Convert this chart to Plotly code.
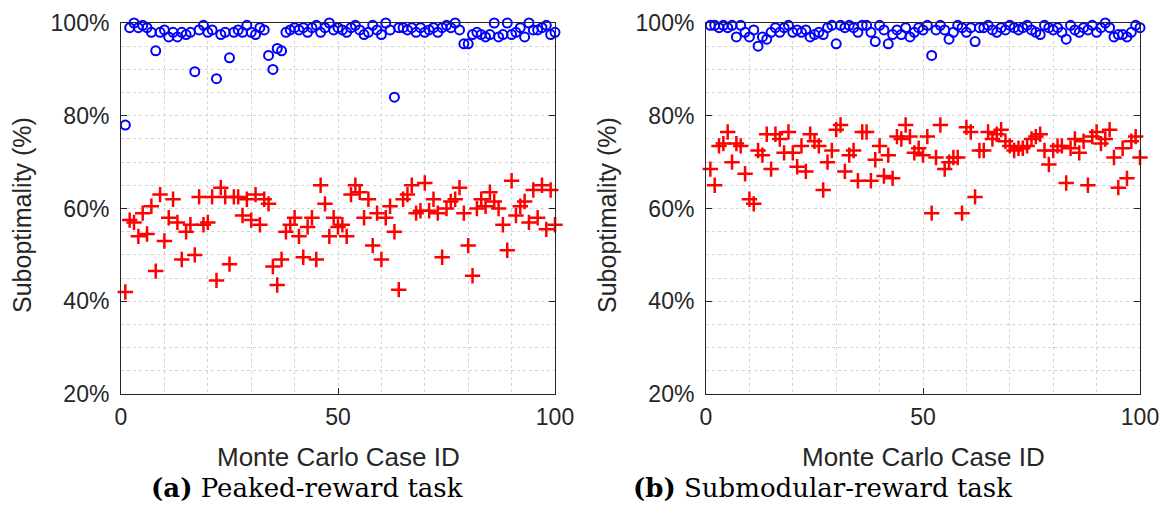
import plotly.graph_objects as go

case_ids = list(range(1, 101))

peaked_greedy = [78, 99, 100, 99, 99.5, 99, 98, 94, 98, 98.5,
                 97, 98, 97, 98, 97.5, 98, 89.5, 98.5, 99.5, 98,
                 98.5, 88, 97.5, 98, 92.5, 98, 98.5, 98, 99.5, 98,
                 97.5, 99, 98.5, 93, 90, 94.5, 94, 98, 98.5, 99,
                 98.5, 99, 98, 99, 99.5, 98, 99, 100, 98.5, 99,
                 98.5, 98, 99, 99.5, 98.5, 97.5, 98, 99.5, 98.5, 97.5,
                 100, 98.5, 84, 99, 99, 98.5, 99, 98, 99, 98,
                 98.5, 99, 98, 99, 99.5, 99, 100, 98.5, 95.5, 95.5,
                 97.5, 98, 97.5, 97, 97.5, 100, 97, 97.5, 100, 97.5,
                 98, 99, 97, 100, 98.5, 98.5, 99, 99.5, 97.5, 98]
peaked_baseline = [42, 57.5, 57, 54, 59, 54.5, 60.5, 46.5, 63, 53,
                   58, 62, 57, 49, 55, 56.5, 50, 62.5, 56.5, 57,
                   62.5, 44.5, 64.5, 62.5, 48, 62.5, 62.5, 58.5, 62, 57.5,
                   63, 56.5, 62, 61, 47.5, 43.5, 49, 55, 56.5, 58,
                   54, 49.5, 56, 58, 49, 65, 61, 54, 58, 56,
                   56.5, 54, 63, 65, 63.5, 58, 62, 52, 59, 49,
                   58, 60.5, 55, 42.5, 62, 63, 65, 59, 59.5, 65.5,
                   59.5, 62, 59, 49.5, 60, 61.5, 62, 64.5, 59, 52,
                   45.5, 60, 62, 60.5, 63.5, 61.5, 60, 56.5, 51, 66,
                   58.5, 60.5, 61.5, 57, 64, 58, 65, 55.5, 64, 56.5]

submod_greedy = [99.5, 99.5, 99, 99.5, 99, 99.5, 97, 99.5, 98, 97,
                 98.5, 95, 97, 96.5, 98, 99, 98, 99, 99.5, 98,
                 98.5, 98, 98.5, 97, 97.5, 98, 97.5, 99, 99.5, 95.5,
                 99.5, 99, 99.5, 99, 98, 99.5, 99.5, 98, 96, 99.5,
                 98.5, 95.5, 97.5, 98.5, 97.5, 99, 97, 98, 99, 98.5,
                 99.5, 93, 98.5, 99.5, 98.5, 96.5, 98, 99.5, 99, 98,
                 99, 96, 99, 99, 99.5, 98.5, 98, 99, 98.5, 99.5,
                 99, 98.5, 99, 99.5, 98.5, 98, 97.5, 99.5, 99, 98.5,
                 99, 98, 96.5, 99.5, 98.5, 98, 99, 98.5, 99.5, 98,
                 99, 100, 99, 97, 97.5, 97.5, 97, 98, 99.5, 99]
submod_baseline = [68.5, 65, 73.5, 74, 76.5, 70, 74, 73.5, 67.5, 62,
                   61, 72.5, 71.5, 76, 68.5, 76, 75, 72, 76.5, 72,
                   69, 73.5, 68, 76, 74.5, 73.5, 64, 70, 72.5, 77,
                   78, 68, 71.5, 72.5, 66, 76.5, 76.5, 66, 70.5, 73.5,
                   67, 71.5, 66.5, 75.5, 75, 78, 75.5, 72, 73, 71.5,
                   75.5, 59, 71, 78, 68.5, 70, 71, 71, 59, 77.5,
                   76.5, 62.5, 72.5, 72.5, 76.5, 75, 76, 77, 74.5, 73.5,
                   72.5, 73, 73, 73.5, 75, 75.5, 76, 72.5, 69.5, 72.5,
                   73.5, 73.5, 65.5, 73, 75, 72, 74.5, 65, 75.5, 76.5,
                   74, 75, 77, 71, 64.5, 73, 66.5, 74.5, 75.5, 71]

x_ticks = [0, 50, 100]
y_ticks = [20, 40, 60, 80, 100]
y_tick_labels = ["20%", "40%", "60%", "80%", "100%"]
x_title = "Monte Carlo Case ID"
y_title = "Suboptimality (%)"
captions = ["<b>(a)</b> Peaked-reward task", "<b>(b)</b> Submodular-reward task"]

W, H = 1159, 510
fig = go.Figure()

panels = [
    (peaked_greedy, peaked_baseline, "x", "y", [121 / W, 555 / W], 307 / W),
    (submod_greedy, submod_baseline, "x2", "y2", [706 / W, 1140 / W], 823 / W),
]

ydom = [1 - 394 / H, 1 - 23 / H]
font_axis = "Liberation Sans, Arial, sans-serif"
txt_col = "#262626"

for i, (blue, red, xa, ya, xdom, cap_x) in enumerate(panels):
    fig.add_trace(go.Scatter(
        x=case_ids, y=blue, mode="markers", xaxis=xa, yaxis=ya,
        marker=dict(symbol="circle-open", size=9, color="#0000ff",
                    line=dict(width=2, color="#0000ff")),
        showlegend=False, cliponaxis=False))
    fig.add_trace(go.Scatter(
        x=case_ids, y=red, mode="markers", xaxis=xa, yaxis=ya,
        marker=dict(symbol="cross-thin", size=11, color="#ff0000",
                    line=dict(width=2.5, color="#ff0000")),
        showlegend=False, cliponaxis=False))
    suffix = "" if i == 0 else "2"
    common_axis = dict(
        showline=True, linecolor=txt_col, linewidth=1, mirror="ticks",
        ticks="inside", ticklen=6, tickcolor=txt_col,
        showgrid=True, gridcolor="#d4d4d4", griddash="dot", gridwidth=1,
        zeroline=False, automargin=False, ticklabeloverflow="allow",
        tickfont=dict(family=font_axis, size=23, color=txt_col),
    )
    fig.layout["xaxis" + suffix] = dict(
        common_axis, domain=xdom, range=[0, 100], tickvals=x_ticks,
        anchor="y" + suffix, ticklabelstandoff=2,
        minor=dict(tickvals=list(range(0, 101, 10)), showgrid=True,
                   gridcolor="#d4d4d4", griddash="dot", gridwidth=1, ticks=""),
    )
    fig.layout["yaxis" + suffix] = dict(
        common_axis, domain=ydom, range=[20, 100], tickvals=y_ticks,
        ticktext=y_tick_labels, anchor="x" + suffix, ticklabelstandoff=6,
        minor=dict(tickvals=list(range(20, 101, 5)), showgrid=True,
                   gridcolor="#d4d4d4", griddash="dot", gridwidth=1, ticks=""),
    )
    xc = (xdom[0] + xdom[1]) / 2
    # axis titles
    fig.add_annotation(
        text=x_title, xref="paper", yref="paper", x=xc, y=1 - 457 / H,
        xanchor="center", yanchor="middle", showarrow=False,
        font=dict(family=font_axis, size=26, color=txt_col))
    fig.add_annotation(
        text=y_title, xref="paper", yref="paper",
        x=(xdom[0] * W - 99) / W, y=1 - 215 / H, textangle=-90,
        xanchor="center", yanchor="middle", showarrow=False,
        font=dict(family=font_axis, size=25, color=txt_col))
    fig.add_annotation(
        text=captions[i], xref="paper", yref="paper",
        x=cap_x, y=1 - 488 / H, xanchor="center", yanchor="middle",
        showarrow=False,
        font=dict(family="DejaVu Serif, Liberation Serif, serif", size=26, color="black"))

fig.update_layout(
    width=W, height=H, margin=dict(l=0, r=0, t=0, b=0),
    paper_bgcolor="white", plot_bgcolor="white",
)

fig.write_html("out.html")
